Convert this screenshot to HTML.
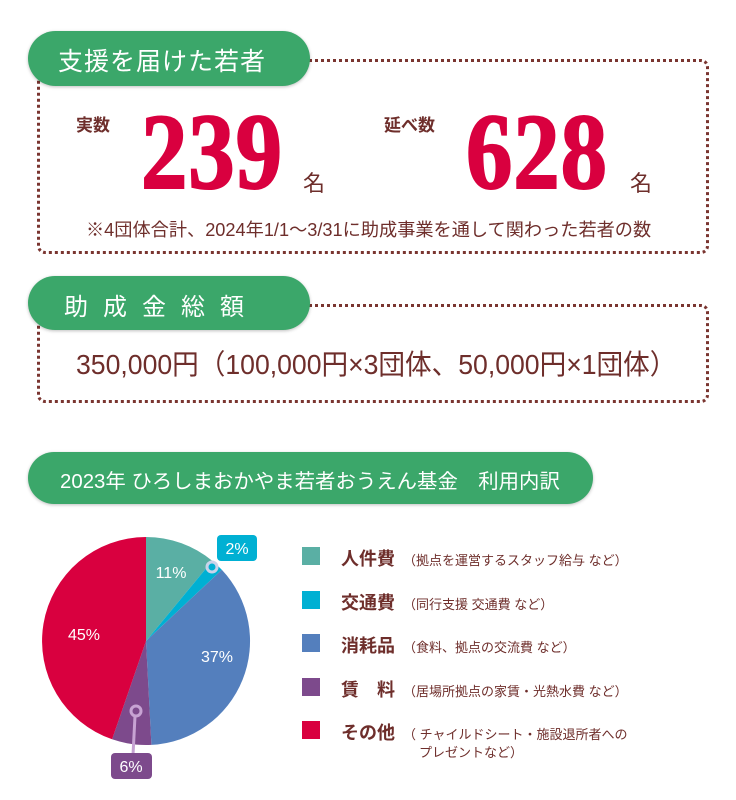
<!DOCTYPE html>
<html><head><meta charset="utf-8"><style>
body{margin:0;width:736px;height:800px;background:#fff;position:relative;overflow:hidden;font-family:"Liberation Sans","Noto Sans CJK JP",sans-serif;color:#6e2e2b}
.abs{position:absolute}
.pill{position:absolute;background:#3ba76a;border-radius:28px;color:#fff;box-shadow:0 1px 3px rgba(0,0,0,.25)}
.box{position:absolute;border:3px dotted #7a3530;border-radius:8px}
.big{position:absolute;font-family:"Liberation Serif",serif;font-weight:bold;color:#d9003f;font-size:108px;line-height:1;transform:scaleX(.86);transform-origin:0 0;letter-spacing:1px;-webkit-text-stroke:2px #d9003f}
.cond{display:inline-block;transform-origin:0 0;white-space:nowrap}
.sq{position:absolute;left:302px;width:18px;height:18px}
.lg{position:absolute;left:341px;font-size:18px;white-space:nowrap;font-weight:bold}
.lg small{font-size:13px;margin-left:8px;font-weight:normal}
</style></head><body>
<div class="box" style="left:37px;top:59px;width:666px;height:189px"></div>
<div class="pill" style="left:28px;top:31px;width:282px;height:55px"><span class="abs" style="left:30px;top:11px;font-size:25px;letter-spacing:1px">支援を届けた若者</span></div>
<div class="abs" style="left:76px;top:111px;font-size:17px;font-weight:bold">実数</div>
<div class="big" style="left:141px;top:99px">239</div>
<div class="abs" style="left:303px;top:166px;font-size:22px">名</div>
<div class="abs" style="left:384px;top:111px;font-size:17px;font-weight:bold">延べ数</div>
<div class="big" style="left:466px;top:99px">628</div>
<div class="abs" style="left:630px;top:166px;font-size:22px">名</div>
<div class="abs" style="left:86px;top:216px;font-size:18px"><span class="cond" style="transform:scaleX(1.01)">※4団体合計、2024年1/1〜3/31に助成事業を通して関わった若者の数</span></div>

<div class="box" style="left:37px;top:304px;width:666px;height:93px"></div>
<div class="pill" style="left:28px;top:276px;width:282px;height:54px"><span class="abs" style="left:36px;top:11px;font-size:24px;letter-spacing:15px">助成金総額</span></div>
<div class="abs" style="left:76px;top:343px;font-size:28px"><span class="cond" style="transform:scaleX(.95)">350,000円（100,000円×3団体、50,000円×1団体）</span></div>

<div class="pill" style="left:28px;top:452px;width:565px;height:52px"><span class="abs" style="left:32px;top:13px;font-size:20px"><span class="cond" style="transform:scaleX(1.02)">2023年 ひろしまおかやま若者おうえん基金　利用内訳</span></span></div>

<svg class="abs" style="left:0;top:0" width="736" height="800">
<path d="M146,641 L146,537 A104,104 0 0 1 212.3,560.9 Z" fill="#5aafa4"/>
<path d="M146,641 L212.3,560.9 A104,104 0 0 1 221.8,569.8 Z" fill="#00b0d3"/>
<path d="M146,641 L221.8,569.8 A104,104 0 0 1 151.4,744.9 Z" fill="#547fbd"/>
<path d="M146,641 L151.4,744.9 A104,104 0 0 1 112.1,739.3 Z" fill="#7d4a8c"/>
<path d="M146,641 L112.1,739.3 A104,104 0 0 1 146,537 Z" fill="#d9003f"/>
<circle cx="212" cy="567" r="5" fill="none" stroke="#c9d3ea" stroke-width="3"/>
<rect x="217" y="535" width="40" height="26" rx="4" fill="#00b0d3"/>
<text x="237" y="554" fill="#fff" font-size="16" text-anchor="middle" font-family="Liberation Sans">2%</text>
<line x1="135" y1="716" x2="133" y2="755" stroke="#c7a3d3" stroke-width="3"/>
<circle cx="136" cy="711" r="5" fill="none" stroke="#c7a3d3" stroke-width="3"/>
<rect x="111" y="753" width="41" height="26" rx="4" fill="#7d4a8c"/>
<text x="131" y="772" fill="#fff" font-size="16" text-anchor="middle" font-family="Liberation Sans">6%</text>
<g fill="#fff" font-size="16" font-family="Liberation Sans" text-anchor="middle">
<text x="171" y="578">11%</text><text x="84" y="640">45%</text><text x="217" y="662">37%</text></g>
</svg>

<div class="sq" style="top:547px;background:#5aafa4"></div>
<div class="sq" style="top:591px;background:#00b0d3"></div>
<div class="sq" style="top:634px;background:#547fbd"></div>
<div class="sq" style="top:678px;background:#7d4a8c"></div>
<div class="sq" style="top:721px;background:#d9003f"></div>
<div class="lg" style="top:545px">人件費<small>（拠点を運営するスタッフ給与 など）</small></div>
<div class="lg" style="top:589px">交通費<small>（同行支援 交通費 など）</small></div>
<div class="lg" style="top:632px">消耗品<small>（食料、拠点の交流費 など）</small></div>
<div class="lg" style="top:676px">賃　料<small>（居場所拠点の家賃・光熱水費 など）</small></div>
<div class="lg" style="top:719px">その他<small>（ チャイルドシート・施設退所者への</small></div>
<div class="lg" style="top:742px;left:419px;font-size:13px;font-weight:normal">プレゼントなど）</div>
</body></html>
